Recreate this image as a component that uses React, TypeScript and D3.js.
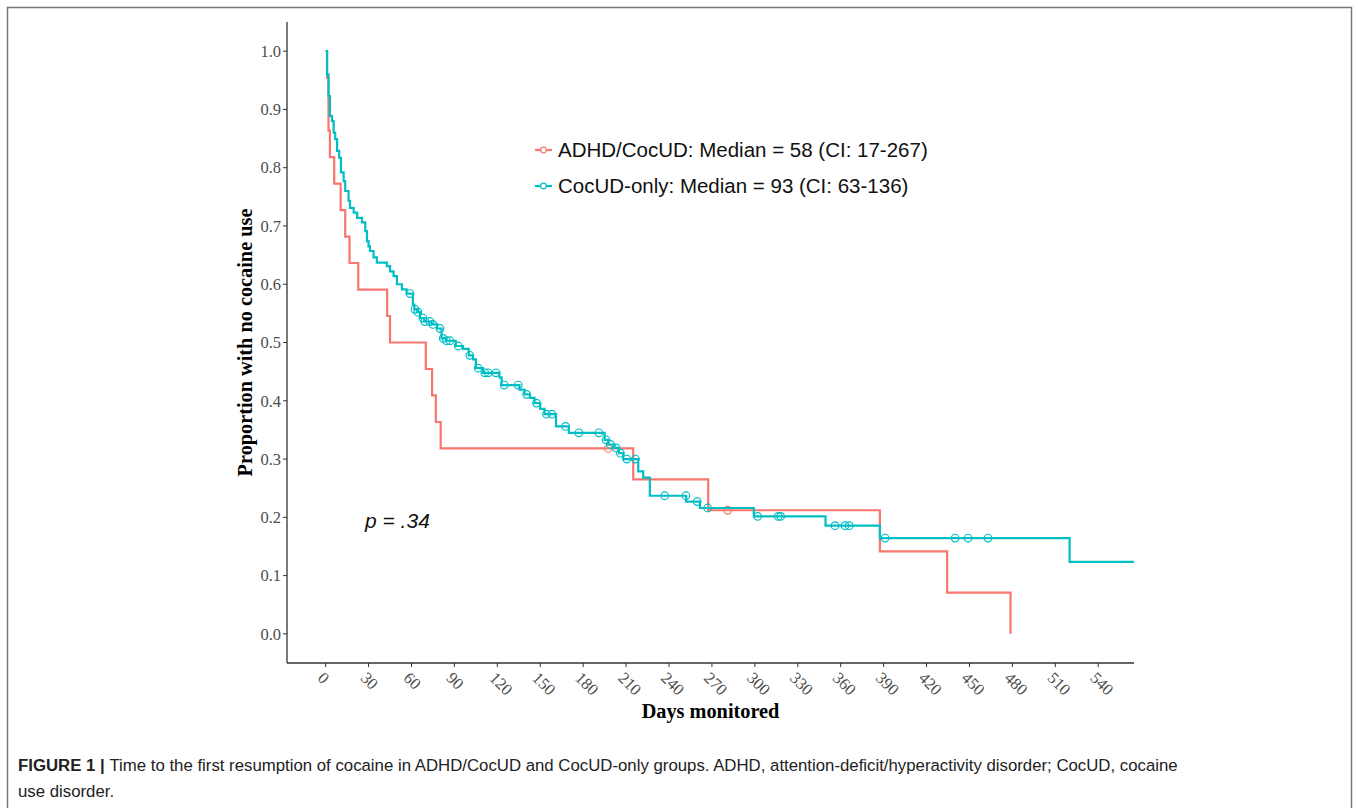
import React from "react";
import * as d3 from "d3";

// ---- data ----
const xTicks = [0, 30, 60, 90, 120, 150, 180, 210, 240, 270, 300, 330, 360, 390, 420, 450, 480, 510, 540];
const yTicks = [0, 0.1, 0.2, 0.3, 0.4, 0.5, 0.6, 0.7, 0.8, 0.9, 1.0];

// ADHD/CocUD: [day, survival after step]
const adhdSteps: [number, number][] = [
  [0, 1], [1, 0.9545], [2, 0.8636], [3, 0.8182], [6, 0.7727], [10.5, 0.7273], [13.7, 0.6818],
  [16.7, 0.6364], [22.8, 0.5909], [43, 0.5455], [45, 0.5], [70, 0.4545], [74.4, 0.4091],
  [77, 0.3636], [80.4, 0.3182], [215, 0.2652], [267.4, 0.2121], [387.4, 0.1414],
  [434.4, 0.0707], [478.7, 0],
];
const adhdEnd = 478.7;
const adhdCensor = [197.5, 281];

// CocUD-only
const cocSteps: [number, number][] = [
  [0, 1.0], [1, 0.96], [2, 0.923], [3, 0.889], [4.4, 0.88], [5.6, 0.86], [6.7, 0.849], [8, 0.829],
  [9.5, 0.817], [10.7, 0.792], [12.6, 0.777], [13.7, 0.76], [16, 0.743], [17, 0.731], [19.6, 0.723],
  [22, 0.714], [25.4, 0.706], [27.7, 0.691], [28.9, 0.674], [30, 0.665], [31, 0.657], [33.5, 0.646],
  [35.8, 0.637], [42.8, 0.631], [45, 0.622], [47.5, 0.614], [49.8, 0.6], [53.3, 0.591], [56.6, 0.584],
  [61, 0.565], [62, 0.557], [64, 0.552], [66, 0.542], [69, 0.536], [74, 0.531], [78, 0.524],
  [81, 0.507], [84, 0.503], [91, 0.494], [96, 0.489], [100, 0.478], [103, 0.471], [105, 0.456],
  [110, 0.448], [121.5, 0.44], [123, 0.427], [135.5, 0.419], [139, 0.411], [142.8, 0.405],
  [146, 0.396], [150, 0.386], [153, 0.377], [161, 0.356], [170, 0.345], [195, 0.333],
  [197.5, 0.325], [202, 0.319], [205, 0.31], [208, 0.3], [218.5, 0.279], [222, 0.268],
  [226.6, 0.237], [252, 0.227], [261.6, 0.216], [299.3, 0.2016], [349.4, 0.1856],
  [387.4, 0.1644], [520, 0.1237],
];
const cocEnd = 565;
const cocCensor = [
  59, 62.4, 64.5, 68, 69.4, 72.9, 75, 79.9, 82.2, 84.5, 86.9, 92.7, 100.8, 106.6, 111.3, 113.6, 119,
  124.8, 134.6, 140.5, 147.4, 154.4, 158, 167.7, 177, 191, 196, 199, 203, 206, 210.5, 216.5, 237,
  251.8, 259.7, 267, 302, 316.3, 318, 356, 363, 366, 391, 440, 449, 463,
];

const groups = [
  { label: "ADHD/CocUD: Median = 58 (CI: 17-267)", color: "#F8766D", steps: adhdSteps, end: adhdEnd, censor: adhdCensor },
  { label: "CocUD-only: Median = 93 (CI: 63-136)", color: "#00BFC4", steps: cocSteps, end: cocEnd, censor: cocCensor },
];

const captionLines = [
  "Time to the first resumption of cocaine in ADHD/CocUD and CocUD-only groups. ADHD, attention-deficit/hyperactivity disorder; CocUD, cocaine",
  "use disorder.",
];

const W = 1358;
const H = 808;

function survAt(steps: [number, number][], t: number) {
  let s = 1;
  for (const [d, v] of steps) {
    if (d <= t) s = v;
    else break;
  }
  return s;
}

export default function App() {
  const x = d3.scaleLinear().domain([-27, 565]).range([287, 1134]);
  const y = d3.scaleLinear().domain([-0.05, 1.05]).range([663, 22]);
  const line = d3
    .line<[number, number]>()
    .x((d) => x(d[0]))
    .y((d) => y(d[1]))
    .curve(d3.curveStepAfter);

  const serif = "'Liberation Serif', 'Times New Roman', serif";
  const sans = "'Liberation Sans', Arial, Helvetica, sans-serif";

  return (
    <svg width={W} height={H} style={{ position: "absolute", left: 0, top: 0, background: "#fff" }}>
      <rect x={7.5} y={7.5} width={1344} height={820} fill="none" stroke="#777" strokeWidth={1.5} />

      {/* axes */}
      <line x1={x(-27)} x2={x(-27)} y1={y(1.05)} y2={y(-0.05)} stroke="#333" strokeWidth={1.3} />
      <line x1={x(-27)} x2={x(565)} y1={y(-0.05)} y2={y(-0.05)} stroke="#333" strokeWidth={1.3} />

      {yTicks.map((t) => (
        <g key={"y" + t}>
          <line x1={x(-27) - 4} x2={x(-27)} y1={y(t)} y2={y(t)} stroke="#333" strokeWidth={1} />
          <text x={x(-27) - 6} y={y(t)} dy="0.35em" textAnchor="end" fontFamily={serif} fontSize={16.5} fill="#4d4d4d">
            {t.toFixed(1)}
          </text>
        </g>
      ))}
      {xTicks.map((t) => (
        <g key={"x" + t}>
          <line x1={x(t)} x2={x(t)} y1={y(-0.05)} y2={y(-0.05) + 4} stroke="#333" strokeWidth={1} />
          <text
            transform={`translate(${x(t) - 5},${y(-0.05) + 12}) rotate(45)`}
            dominantBaseline="central"
            textAnchor="start"
            fontFamily={serif}
            fontSize={16.5}
            fill="#4d4d4d"
          >
            {t}
          </text>
        </g>
      ))}

      <text
        transform={`translate(245,${(y(1.05) + y(-0.05)) / 2}) rotate(-90)`}
        textAnchor="middle"
        dominantBaseline="central"
        fontFamily={serif}
        fontWeight="bold"
        fontSize={20.3}
      >
        Proportion with no cocaine use
      </text>
      <text x={(x(-27) + x(565)) / 2} y={711} textAnchor="middle" dominantBaseline="central" fontFamily={serif} fontWeight="bold" fontSize={20.3}>
        Days monitored
      </text>

      {/* curves */}
      {groups.map((g) => {
        const pts: [number, number][] = [...g.steps, [g.end, g.steps[g.steps.length - 1][1]]];
        return (
          <g key={g.label}>
            <path d={line(pts) || ""} fill="none" stroke={g.color} strokeWidth={2.2} />
            {g.censor.map((c, i) => (
              <circle key={i} cx={x(c)} cy={y(survAt(g.steps, c))} r={3.8} fill="none" stroke={g.color} strokeWidth={1.2} />
            ))}
          </g>
        );
      })}

      {/* legend */}
      {groups.map((g, i) => {
        const ly = 150 + i * 36;
        return (
          <g key={"lg" + i}>
            <line x1={535} x2={552} y1={ly} y2={ly} stroke={g.color} strokeWidth={2.2} />
            <circle cx={543.5} cy={ly} r={2.8} fill="#fff" stroke={g.color} strokeWidth={1.2} />
            <text x={558} y={ly} dy="0.35em" fontFamily={sans} fontSize={20.5} fill="#111">
              {g.label}
            </text>
          </g>
        );
      })}

      <text x={365} y={521} dy="0.35em" fontFamily={sans} fontStyle="italic" fontSize={21} fill="#111">
        p = .34
      </text>

      {/* caption */}
      <text x={18} y={765} dy="0.35em" fontFamily={sans} fontSize={16.8} fill="#222">
        <tspan fontWeight="bold">FIGURE 1 | </tspan>
        {captionLines[0]}
      </text>
      <text x={18} y={791} dy="0.35em" fontFamily={sans} fontSize={16.8} fill="#222">
        {captionLines[1]}
      </text>
    </svg>
  );
}
